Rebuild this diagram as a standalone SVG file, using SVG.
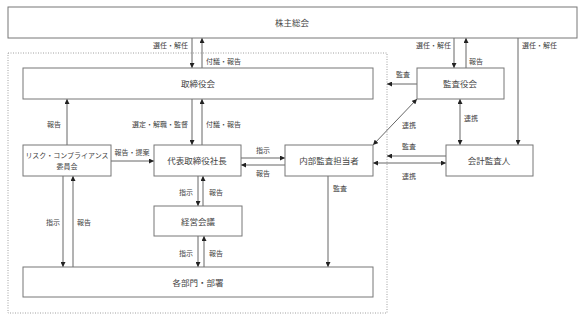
<svg xmlns="http://www.w3.org/2000/svg" width="585" height="318" viewBox="0 0 585 318">
<style>
.box{fill:#fff;stroke:#777;stroke-width:1}
.nt{font-family:"Noto Sans CJK JP","Liberation Sans",sans-serif;font-size:8.5px;fill:#444;text-anchor:middle;dominant-baseline:central}
.lb{font-family:"Noto Sans CJK JP","Liberation Sans",sans-serif;font-size:7px;fill:#444;dominant-baseline:central}
.c{text-anchor:middle}.e{text-anchor:end}.s{text-anchor:start}
.ln{stroke:#666;stroke-width:1;fill:none}
.a{marker-end:url(#ah)}
.b{marker-start:url(#ah);marker-end:url(#ah)}
</style>
<defs>
<marker id="ah" viewBox="0 0 10 10" refX="10" refY="5" markerWidth="5" markerHeight="5" markerUnits="userSpaceOnUse" orient="auto-start-reverse">
<path d="M0,0 L10,5 L0,10 z" fill="#222"/>
</marker>
</defs>
<rect width="585" height="318" fill="#fff"/>
<rect x="8" y="53" width="379" height="260" fill="none" stroke="#888" stroke-width="0.8" stroke-dasharray="1,1.5"/>

<g id="connectors">
<line class="ln a" x1="192" y1="38" x2="192" y2="68"/>
<line class="ln a" x1="202" y1="68" x2="202" y2="38"/>
<line class="ln a" x1="454" y1="38" x2="454" y2="68"/>
<line class="ln a" x1="466" y1="68" x2="466" y2="38"/>
<line class="ln a" x1="518" y1="38" x2="518" y2="145"/>
<line class="ln a" x1="417" y1="84" x2="387" y2="84"/>
<line class="ln b" x1="460" y1="99" x2="460" y2="145"/>
<line class="ln b" x1="417" y1="99" x2="373" y2="145"/>
<line class="ln a" x1="446" y1="156" x2="387" y2="156"/>
<line class="ln b" x1="373" y1="163" x2="446" y2="163"/>
<line class="ln a" x1="192" y1="99" x2="192" y2="145"/>
<line class="ln a" x1="202" y1="145" x2="202" y2="99"/>
<line class="ln a" x1="67" y1="145" x2="67" y2="99"/>
<line class="ln a" x1="111" y1="161" x2="154" y2="161"/>
<line class="ln a" x1="241" y1="158" x2="285" y2="158"/>
<line class="ln a" x1="285" y1="165" x2="241" y2="165"/>
<line class="ln a" x1="198" y1="176" x2="198" y2="206"/>
<line class="ln a" x1="203" y1="206" x2="203" y2="176"/>
<line class="ln a" x1="198" y1="236" x2="198" y2="267"/>
<line class="ln a" x1="204" y1="267" x2="204" y2="236"/>
<line class="ln a" x1="63" y1="176" x2="63" y2="267"/>
<line class="ln a" x1="73" y1="267" x2="73" y2="176"/>
<line class="ln a" x1="328" y1="176" x2="328" y2="267"/>

<text class="lb e" x="188" y="45">選任・解任</text>
<text class="lb s" x="206" y="61">付議・報告</text>
<text class="lb e" x="451" y="45">選任・解任</text>
<text class="lb s" x="469" y="61">報告</text>
<text class="lb s" x="522" y="45">選任・解任</text>
<text class="lb c" x="403" y="74">監査</text>
<text class="lb c" x="409" y="125">連携</text>
<text class="lb s" x="464" y="118">連携</text>
<text class="lb c" x="409" y="146">監査</text>
<text class="lb c" x="409" y="176">連携</text>
<text class="lb e" x="188" y="124">選定・解職・監督</text>
<text class="lb s" x="206" y="124">付議・報告</text>
<text class="lb e" x="61" y="124">報告</text>
<text class="lb c" x="132" y="152">報告・提案</text>
<text class="lb c" x="263" y="150">指示</text>
<text class="lb c" x="263" y="173">報告</text>
<text class="lb e" x="193" y="192">指示</text>
<text class="lb s" x="209" y="192">報告</text>
<text class="lb e" x="193" y="253">指示</text>
<text class="lb s" x="209" y="253">報告</text>
<text class="lb e" x="60" y="222">指示</text>
<text class="lb s" x="77" y="222">報告</text>
<text class="lb s" x="333" y="188">監査</text>
</g>

<g id="shareholders"><rect class="box" x="8" y="7" width="569" height="31"/><text class="nt" x="292" y="22">株主総会</text></g>
<g id="board"><rect class="box" x="23" y="68" width="350" height="31"/><text class="nt" x="198" y="83">取締役会</text></g>
<g id="audit-board"><rect class="box" x="417" y="68" width="87" height="31"/><text class="nt" x="460" y="83">監査役会</text></g>
<g id="accounting-auditor"><rect class="box" x="446" y="145" width="87" height="31"/><text class="nt" x="489" y="160">会計監査人</text></g>
<g id="internal-audit"><rect class="box" x="285" y="145" width="88" height="31"/><text class="nt" x="329" y="160">内部監査担当者</text></g>
<g id="president"><rect class="box" x="154" y="145" width="87" height="31"/><text class="nt" x="197" y="160">代表取締役社長</text></g>
<g id="risk-committee"><rect class="box" x="23" y="145" width="88" height="31"/><text class="lb c" x="67" y="155">リスク・コンプライアンス</text><text class="lb c" x="67" y="166">委員会</text></g>
<g id="management-meeting"><rect class="box" x="154" y="206" width="88" height="30"/><text class="nt" x="198" y="221">経営会議</text></g>
<g id="departments"><rect class="box" x="23" y="267" width="350" height="30"/><text class="nt" x="198" y="282">各部門・部署</text></g>
</svg>
